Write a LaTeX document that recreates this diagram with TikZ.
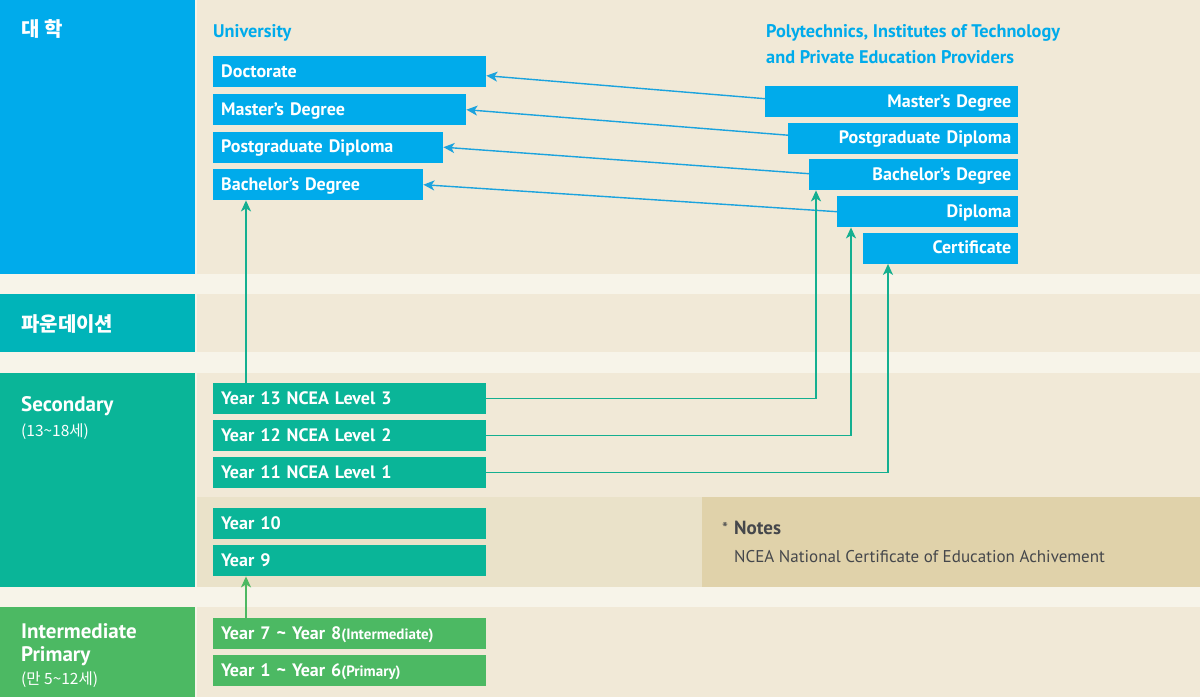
\documentclass[tikz,border=0pt]{standalone}
\usepackage{fontspec}
\setmainfont{PT Sans}
\newfontfamily\kr{Noto Sans CJK KR}
\usetikzlibrary{arrows.meta}
\definecolor{uniblue}{HTML}{00ABEB}
\definecolor{foundteal}{HTML}{00B4B9}
\definecolor{secgreen}{HTML}{0AB598}
\definecolor{primgreen}{HTML}{4CB963}
\definecolor{beigebg}{HTML}{F1E9D7}
\definecolor{stripebg}{HTML}{F7F4E9}
\definecolor{beigelow}{HTML}{EAE2C9}
\definecolor{notebg}{HTML}{E0D2AA}
\definecolor{notetext}{HTML}{45474B}
\definecolor{arrowblue}{HTML}{1BA3DE}
\definecolor{arrowteal}{HTML}{14AF90}
\definecolor{arrowgreen}{HTML}{4DB862}
\tikzset{
  boxbase/.style={anchor=north west, minimum height=31pt, inner xsep=8pt, inner ysep=0pt,
    text height=14pt, text depth=3pt, text=white, font=\fontsize{18}{20}\selectfont\bfseries},
  lbox/.style={boxbase, align=left, text width=#1},
  rbox/.style={boxbase, align=right, text width=#1, inner xsep=7pt},
  sidelabel/.style={anchor=base west, inner sep=0pt, text=white, font=\fontsize{21}{23}\selectfont\bfseries},
  sidesub/.style={anchor=base west, inner sep=0pt, text=white, font=\kr\fontsize{15.5}{17}\selectfont},
  heading/.style={anchor=base west, inner sep=0pt, text=uniblue, font=\fontsize{18.3}{20}\selectfont\bfseries},
  barrow/.style={draw=arrowblue, line width=1.4pt, -{Stealth[length=11pt, width=10pt, inset=3pt]}},
  garrow/.style={draw=arrowteal, line width=1.4pt, -{Stealth[length=11pt, width=10pt, inset=3pt]}},
  parrow/.style={draw=arrowgreen, line width=1.4pt, -{Stealth[length=11pt, width=10pt, inset=3pt]}}
}
\begin{document}
\begin{tikzpicture}[x=1pt,y=-1pt]
\useasboundingbox (0,0) rectangle (1200,697);
% backgrounds
\fill[beigebg] (0,0) rectangle (1200,697);
\fill[stripebg] (0,273.5) rectangle (1200,293.5);
\fill[stripebg] (0,352) rectangle (1200,373);
\fill[stripebg] (0,587) rectangle (1200,607);
\fill[stripebg] (195,0) rectangle (197,697);
\fill[uniblue] (0,0) rectangle (195,273.5);
\fill[foundteal] (0,293.5) rectangle (195,352);
\fill[secgreen] (0,373) rectangle (195,587);
\fill[primgreen] (0,607) rectangle (195,697);
\fill[beigelow] (197,497) rectangle (702,587);
\fill[notebg] (702,497) rectangle (1200,587);

% side labels
\node[sidelabel, font=\kr\fontsize{20}{22}\selectfont\bfseries] (lu) at (21,36) {대 학};
\node[sidelabel, font=\kr\fontsize{20}{22}\selectfont\bfseries] (lf) at (21,331) {파운데이션};
\node[sidelabel] (ls) at (21,411) {Secondary};
\node[sidesub] (lss) at (21,436) {(13\textasciitilde18세)};
\node[sidelabel] (li) at (21,638) {Intermediate};
\node[sidelabel] (lp) at (21,661) {Primary};
\node[sidesub] (lps) at (21,684) {(만 5\textasciitilde12세)};

% headings
\node[heading] (hu) at (213,37) {University};
\node[heading] (hp1) at (766,37) {Polytechnics, Institutes of Technology};
\node[heading] (hp2) at (766,63) {and Private Education Providers};

% university boxes
\node[lbox=257pt, fill=uniblue] (udoc) at (213,56) {Doctorate};
\node[lbox=237pt, fill=uniblue] (umas) at (213,94) {Master’s Degree};
\node[lbox=214pt, fill=uniblue] (upgd) at (213,131.5) {Postgraduate Diploma};
\node[lbox=194pt, fill=uniblue] (ubac) at (213,169) {Bachelor’s Degree};

% polytechnic boxes
\node[rbox=239pt, fill=uniblue] (pmas) at (765,86) {Master’s Degree};
\node[rbox=216pt, fill=uniblue] (ppgd) at (788,122.5) {Postgraduate Diploma};
\node[rbox=195pt, fill=uniblue] (pbac) at (809,159) {Bachelor’s Degree};
\node[rbox=167pt, fill=uniblue] (pdip) at (837,196) {Diploma};
\node[rbox=141pt, fill=uniblue] (pcer) at (863,232.5) {Certificate};

% secondary boxes
\node[lbox=257pt, fill=secgreen] (y13) at (213,383) {Year 13 NCEA Level 3};
\node[lbox=257pt, fill=secgreen] (y12) at (213,420) {Year 12 NCEA Level 2};
\node[lbox=257pt, fill=secgreen] (y11) at (213,457) {Year 11 NCEA Level 1};
\node[lbox=257pt, fill=secgreen] (y10) at (213,508) {Year 10};
\node[lbox=257pt, fill=secgreen] (y9) at (213,545) {Year 9};

% primary boxes
\node[lbox=257pt, fill=primgreen] (y78) at (213,618) {Year 7 \textasciitilde{} Year 8{\fontsize{15}{16}\selectfont(Intermediate)}};
\node[lbox=257pt, fill=primgreen] (y16) at (213,655) {Year 1 \textasciitilde{} Year 6{\fontsize{15}{16}\selectfont(Primary)}};

% notes
\node[anchor=base west, inner sep=0pt, text=notetext, font=\fontsize{17}{18}\selectfont] (nstar) at (722,534) {*};
\node[anchor=base west, inner sep=0pt, text=notetext, font=\fontsize{19}{21}\selectfont\bfseries] (nhead) at (734,534) {Notes};
\node[anchor=base west, inner sep=0pt, text=notetext, font=\fontsize{17}{19}\selectfont] (ntext) at (734,562) {NCEA National Certificate of Education Achivement};

% blue arrows
\draw[barrow] ([yshift=3pt]pmas.west) -- ([yshift=-4pt]udoc.east);
\draw[barrow] ([yshift=3pt]ppgd.west) -- (umas.east);
\draw[barrow] ([yshift=1pt]pbac.west) -- (upgd.east);
\draw[barrow] (pdip.west) -- (ubac.east);

% green arrows
\draw[garrow] ([xshift=33pt]y13.north west) -- ([xshift=33pt]ubac.south west);
\draw[garrow] (y13.east) -| ([xshift=7pt]pbac.south west);
\draw[garrow] (y12.east) -| ([xshift=14pt]pdip.south west);
\draw[garrow] (y11.east) -| ([xshift=25pt]pcer.south west);
\draw[parrow] ([xshift=33pt]y78.north west) -- ([xshift=33pt]y9.south west);
\end{tikzpicture}
\end{document}
